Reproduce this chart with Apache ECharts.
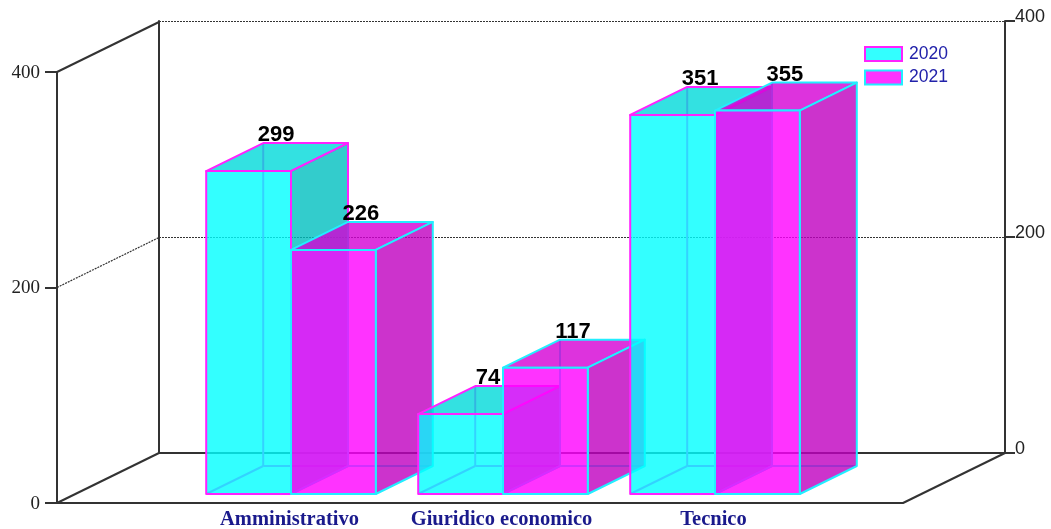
<!DOCTYPE html>
<html>
<head>
<meta charset="utf-8">
<style>html,body{margin:0;padding:0;background:#fff}#c{width:1051px;height:529px}</style>
<script src="https://cdn.jsdelivr.net/npm/echarts@6/dist/echarts.min.js"></script>
</head>
<body>
<div id="c"></div>
<script>
const categories = ['Amministrativo', 'Giuridico economico', 'Tecnico'];
const values2020 = [299, 74, 351];
const values2021 = [226, 117, 355];
const wallTicks = [0, 200, 400];
const seriesNames = ['2020', '2021'];

const AXIS = '#333333';
const WALL_DX = 102, WALL_DY = -50;      // depth of the chart box
const BAR_DX = 57, BAR_DY = -28;         // depth of a bar
const BAR_SHARE = 0.4;                   // bar width as a share of a category band
const looks = [
  { front: 'rgba(0,255,255,0.8)', top: 'rgba(0,217,217,0.8)', side: 'rgba(0,191,191,0.8)', edge: '#FF22FF', legend: '#33FFFF' },
  { front: 'rgba(255,0,255,0.8)', top: 'rgba(212,0,212,0.8)', side: 'rgba(191,0,191,0.8)', edge: '#22EEFF', legend: '#FF33FF' }
];

function barRenderer(idx) {
  const look = looks[idx];
  return function (params, api) {
    const cat = api.value(0), val = api.value(1);
    const base = api.coord([cat, 0]);
    const topPt = api.coord([cat, val]);
    const w = api.size([1, 0])[0] * BAR_SHARE;
    const x0 = base[0] + (idx - 1) * w, x1 = x0 + w;
    const yb = base[1], yt = topPt[1];
    const z = cat * 10 + idx * 2 + 1;
    const lineStyle = { stroke: look.edge, lineWidth: 2, fill: null };
    const edge = { stroke: look.edge, lineWidth: 2, lineJoin: 'round' };
    const line = (a, b, c, d) => ({ type: 'line', z2: z, silent: true, shape: { x1: a, y1: b, x2: c, y2: d }, style: lineStyle });
    const poly = (pts, fill, zz) => ({ type: 'polygon', z2: zz, silent: true, shape: { points: pts }, style: Object.assign({ fill: fill }, edge) });
    const bx = x0 + BAR_DX, by = yb + BAR_DY;
    return {
      type: 'group',
      children: [
        line(bx, by, x0, yb),
        line(bx, by, bx, yt + BAR_DY),
        line(bx, by, x1 + BAR_DX, by),
        poly([[x0, yt], [bx, yt + BAR_DY], [x1 + BAR_DX, yt + BAR_DY], [x1, yt]], look.top, z + 1),
        poly([[x1, yt], [x1 + BAR_DX, yt + BAR_DY], [x1 + BAR_DX, by], [x1, yb]], look.side, z + 1),
        poly([[x0, yt], [x1, yt], [x1, yb], [x0, yb]], look.front, z + 1),
        {
          type: 'text', z2: 500, silent: true,
          style: {
            x: (x0 + x1) / 2 + BAR_DX / 2 - 1, y: yt + BAR_DY + 3,
            text: String(val), align: 'center', verticalAlign: 'bottom',
            font: 'bold 22px "Liberation Sans"', fill: '#000'
          }
        }
      ]
    };
  };
}

function wallRenderer(params, api) {
  const p = api.coord([api.value(0), api.value(1)]);
  return {
    type: 'line', silent: true,
    shape: { x1: p[0], y1: p[1], x2: p[0] + WALL_DX, y2: p[1] + WALL_DY },
    style: { stroke: AXIS, lineWidth: api.value(2) ? 1.2 : 2, lineDash: api.value(2) ? [2, 1] : null }
  };
}

const wallEdges = wallTicks.map(v => [0, v, v === 200 ? 1 : 0]).concat([[1, 0, 0]]);

const hiddenX = { show: false };
const chart = echarts.init(document.getElementById('c'));
chart.setOption({
  animation: false,
  backgroundColor: '#fff',
  grid: [
    { left: 57, top: 72, width: 846, height: 431, outerBoundsMode: 'none' },
    { left: 159, top: 21, width: 846, height: 432, outerBoundsMode: 'none' },
    { left: 185, top: 62, width: 636, height: 432, outerBoundsMode: 'none' }
  ],
  xAxis: [
    { gridIndex: 0, type: 'value', min: 0, max: 1, axisLabel: hiddenX, axisTick: hiddenX, splitLine: hiddenX,
      axisLine: { show: true, onZero: false, lineStyle: { color: AXIS, width: 2 } } },
    { gridIndex: 1, type: 'value', min: 0, max: 1, axisLabel: hiddenX, axisTick: hiddenX, splitLine: hiddenX,
      axisLine: { show: true, onZero: false, lineStyle: { color: AXIS, width: 2 } } },
    { gridIndex: 2, type: 'category', data: categories, axisLine: hiddenX, axisTick: hiddenX, splitLine: hiddenX,
      axisLabel: { interval: 0, margin: 15, color: '#1A1A8C', fontFamily: 'Liberation Serif', fontWeight: 'bold', fontSize: 20.5, padding: [0, 3, 0, 0] } }
  ],
  yAxis: [
    { gridIndex: 0, type: 'value', position: 'left', min: 0, max: 400, interval: 200, splitLine: hiddenX,
      axisLine: { show: true, onZero: false, lineStyle: { color: AXIS, width: 2 } },
      axisTick: { show: true, length: 12, lineStyle: { color: AXIS, width: 2 } },
      axisLabel: { margin: 17, color: '#222', fontFamily: 'Liberation Serif', fontSize: 19, verticalAlign: 'top', lineHeight: 2 } },
    { gridIndex: 1, type: 'value', position: 'right', min: 0, max: 400, interval: 200,
      splitLine: { show: true, lineStyle: { color: AXIS, width: 1, type: [2, 1] } },
      axisLine: { show: true, onZero: false, lineStyle: { color: AXIS, width: 2 } },
      axisTick: { show: true, length: 10, lineStyle: { color: AXIS, width: 2 } },
      axisLabel: { margin: 10, color: '#222', fontFamily: 'Liberation Sans', fontSize: 18, verticalAlign: 'bottom', lineHeight: 8 } },
    { gridIndex: 1, type: 'value', position: 'left', min: 0, max: 400, interval: 200, splitLine: hiddenX,
      axisLabel: hiddenX, axisTick: hiddenX,
      axisLine: { show: true, onZero: false, lineStyle: { color: AXIS, width: 2 } } },
    { gridIndex: 2, type: 'value', min: 0, max: 400, show: false }
  ],
  legend: {
    orient: 'vertical', left: 859, top: 40, itemWidth: 37, itemHeight: 14, itemGap: 5.5, icon: 'rect',
    data: seriesNames, selectedMode: false,
    textStyle: { color: '#2222AA', fontFamily: 'Liberation Sans', fontSize: 17.5, padding: [0, 0, 0, 2] }
  },
  series: [
    { type: 'custom', name: 'walls', xAxisIndex: 0, yAxisIndex: 0, z: 1, silent: true, renderItem: wallRenderer, data: wallEdges },
    { type: 'custom', name: seriesNames[0], xAxisIndex: 2, yAxisIndex: 3, z: 3, silent: true,
      itemStyle: { color: looks[0].legend, borderColor: looks[0].edge, borderWidth: 2 },
      renderItem: barRenderer(0), encode: { x: 0, y: 1 },
      data: values2020.map((v, i) => [i, v]) },
    { type: 'custom', name: seriesNames[1], xAxisIndex: 2, yAxisIndex: 3, z: 3, silent: true,
      itemStyle: { color: looks[1].legend, borderColor: looks[1].edge, borderWidth: 2 },
      renderItem: barRenderer(1), encode: { x: 0, y: 1 },
      data: values2021.map((v, i) => [i, v]) }
  ]
});
</script>
</body>
</html>
